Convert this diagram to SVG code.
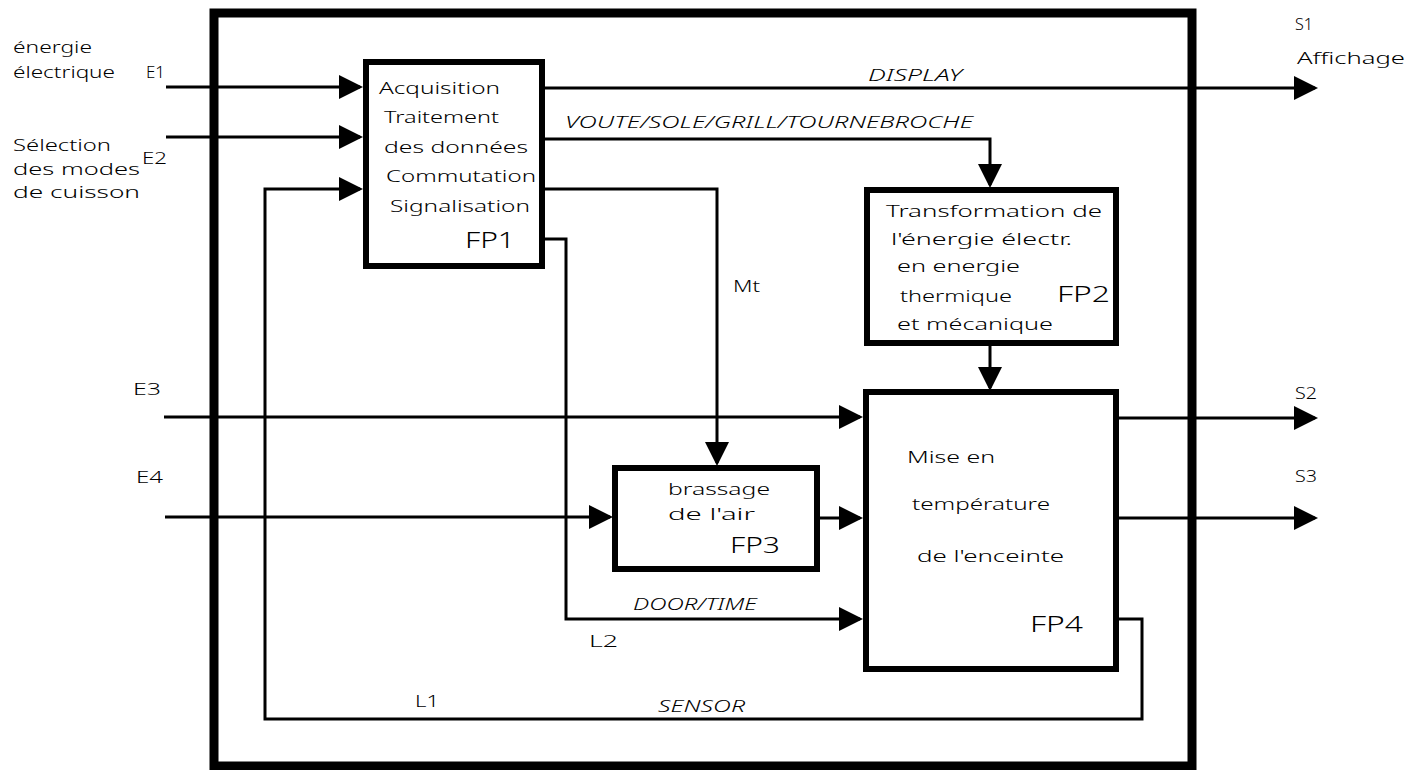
<svg xmlns="http://www.w3.org/2000/svg" width="1421" height="770" viewBox="0 0 1421 770">
<style>
text{font-family:"Noto Sans","DejaVu Sans",sans-serif;font-weight:300;font-size:17px;fill:#000}
.it{font-style:italic;font-size:16px}
.fp{font-size:22px}
.box{fill:#fff;stroke:#000;stroke-width:6}
.outer{fill:none;stroke:#000;stroke-width:9}
.c{fill:none;stroke:#000;stroke-width:3;marker-end:url(#ah)}
</style>
<defs>
<marker id="ah" markerUnits="userSpaceOnUse" markerWidth="24" markerHeight="26" refX="21" refY="12" orient="auto" overflow="visible">
<path d="M0,0 L24,12 L0,24 z" fill="#000"/>
</marker>
</defs>
<rect width="1421" height="770" fill="#fff"/>
<g id="system">
<rect class="outer" x="214" y="13" width="978" height="753"/>
</g>
<g id="connectors">
<path class="c" d="M166,87 H360"/>
<path class="c" d="M166,137 H360"/>
<path class="c" d="M1117,619 H1142 V719 H265 V189 H360"/>
<path class="c" d="M542,88 H1315"/>
<path class="c" d="M542,139 H990 V185"/>
<path class="c" d="M542,189 H717 V463"/>
<path class="c" d="M542,239 H566 V619 H860"/>
<path class="c" d="M990,343 V388"/>
<path class="c" d="M164,417 H860"/>
<path class="c" d="M165,517 H610"/>
<path class="c" d="M817,518 H860"/>
<path class="c" d="M1117,418 H1315"/>
<path class="c" d="M1117,518 H1315"/>
<text class="it" x="868" y="81" textLength="94" lengthAdjust="spacingAndGlyphs">DISPLAY</text>
<text class="it" x="565" y="128" textLength="408" lengthAdjust="spacingAndGlyphs">VOUTE/SOLE/GRILL/TOURNEBROCHE</text>
<text x="733" y="292" font-size="19" textLength="27" lengthAdjust="spacingAndGlyphs">Mt</text>
<text class="it" x="633" y="610" textLength="124" lengthAdjust="spacingAndGlyphs">DOOR/TIME</text>
<text x="589" y="647" font-size="20" textLength="29" lengthAdjust="spacingAndGlyphs">L2</text>
<text x="415" y="707" font-size="20" textLength="24" lengthAdjust="spacingAndGlyphs">L1</text>
<text class="it" x="658" y="712" textLength="87" lengthAdjust="spacingAndGlyphs">SENSOR</text>
</g>
<g id="inputs">
<text x="13" y="53" textLength="79" lengthAdjust="spacingAndGlyphs">énergie</text>
<text x="13" y="78" textLength="102" lengthAdjust="spacingAndGlyphs">électrique</text>
<text x="146" y="78" textLength="19" lengthAdjust="spacingAndGlyphs">E1</text>
<text x="13" y="151" textLength="98" lengthAdjust="spacingAndGlyphs">Sélection</text>
<text x="142" y="164" textLength="25" lengthAdjust="spacingAndGlyphs">E2</text>
<text x="13" y="175" textLength="127" lengthAdjust="spacingAndGlyphs">des modes</text>
<text x="13" y="198" textLength="127" lengthAdjust="spacingAndGlyphs">de cuisson</text>
<text x="133" y="395" textLength="28" lengthAdjust="spacingAndGlyphs">E3</text>
<text x="136" y="483" textLength="27" lengthAdjust="spacingAndGlyphs">E4</text>
</g>
<g id="outputs">
<text x="1295" y="30" textLength="18" lengthAdjust="spacingAndGlyphs">S1</text>
<text x="1297" y="64" textLength="108" lengthAdjust="spacingAndGlyphs">Affichage</text>
<text x="1295" y="399" textLength="22" lengthAdjust="spacingAndGlyphs">S2</text>
<text x="1295" y="482" textLength="22" lengthAdjust="spacingAndGlyphs">S3</text>
</g>
<g id="FP1">
<rect class="box" x="366" y="62" width="176" height="204"/>
<text x="379" y="94" textLength="121" lengthAdjust="spacingAndGlyphs">Acquisition</text>
<text x="384" y="123" textLength="115" lengthAdjust="spacingAndGlyphs">Traitement</text>
<text x="384" y="153" textLength="144" lengthAdjust="spacingAndGlyphs">des données</text>
<text x="386" y="182" textLength="150" lengthAdjust="spacingAndGlyphs">Commutation</text>
<text x="390" y="212" textLength="140" lengthAdjust="spacingAndGlyphs">Signalisation</text>
<text class="fp" x="465" y="248" textLength="50" lengthAdjust="spacingAndGlyphs">FP1</text>
</g>
<g id="FP2">
<rect class="box" x="867" y="190" width="249" height="153"/>
<text x="886" y="217" textLength="216" lengthAdjust="spacingAndGlyphs">Transformation de</text>
<text x="891" y="245" textLength="181" lengthAdjust="spacingAndGlyphs">l'énergie électr.</text>
<text x="897" y="272" textLength="123" lengthAdjust="spacingAndGlyphs">en energie</text>
<text x="900" y="302" textLength="112" lengthAdjust="spacingAndGlyphs">thermique</text>
<text x="897" y="330" textLength="156" lengthAdjust="spacingAndGlyphs">et mécanique</text>
<text class="fp" x="1057" y="302" textLength="53" lengthAdjust="spacingAndGlyphs">FP2</text>
</g>
<g id="FP3">
<rect class="box" x="615" y="468" width="202" height="101"/>
<text x="668" y="495" textLength="102" lengthAdjust="spacingAndGlyphs">brassage</text>
<text x="668" y="520" textLength="87" lengthAdjust="spacingAndGlyphs">de l'air</text>
<text class="fp" x="730" y="553" textLength="50" lengthAdjust="spacingAndGlyphs">FP3</text>
</g>
<g id="FP4">
<rect class="box" x="866" y="392" width="250" height="277"/>
<text x="907" y="463" textLength="88" lengthAdjust="spacingAndGlyphs">Mise en</text>
<text x="912" y="510" textLength="138" lengthAdjust="spacingAndGlyphs">température</text>
<text x="917" y="562" textLength="147" lengthAdjust="spacingAndGlyphs">de l'enceinte</text>
<text class="fp" x="1030" y="632" font-size="24" textLength="53" lengthAdjust="spacingAndGlyphs">FP4</text>
</g>
</svg>
